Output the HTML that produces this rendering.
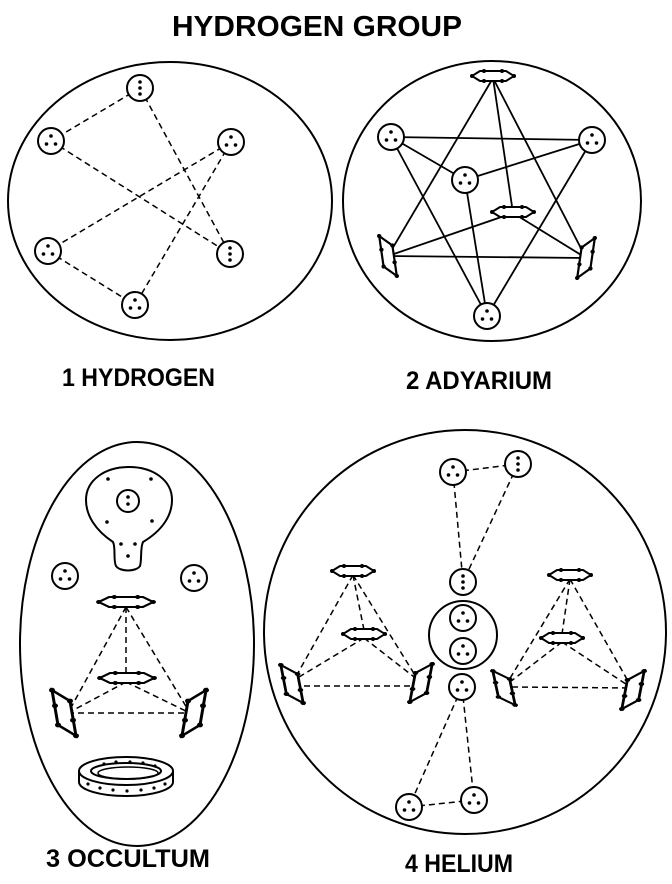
<!DOCTYPE html>
<html><head><meta charset="utf-8"><style>
html,body{margin:0;padding:0;background:#fff;}
svg{display:block}
text{font-family:"Liberation Sans",sans-serif;font-weight:bold;fill:#000}
</style></head><body>
<svg width="672" height="884" viewBox="0 0 672 884" xmlns="http://www.w3.org/2000/svg">
<defs>
<g id="n3"><circle r="13" fill="#fff" stroke="#000" stroke-width="2"/><circle cx="0" cy="-5" r="1.8"/><circle cx="-4.5" cy="3" r="1.8"/><circle cx="4.5" cy="3" r="1.8"/></g>
<g id="nv"><circle r="13" fill="#fff" stroke="#000" stroke-width="2"/><circle cx="0" cy="-6" r="1.8"/><circle cx="0" cy="0" r="1.8"/><circle cx="0" cy="6" r="1.8"/></g>
<g id="hx"><polygon points="-21,0 -13,-5 13,-5 21,0 13,5 -13,5" fill="#fff" stroke="#000" stroke-width="2"/><circle cx="-21" cy="0" r="2"/><circle cx="21" cy="0" r="2"/><circle cx="-9" cy="-5" r="2"/><circle cx="9" cy="-5" r="2"/><circle cx="-9" cy="5" r="2"/><circle cx="9" cy="5" r="2"/></g>
<g id="pl"><polygon points="-8,-19 4,-10 8,19 -4,10" fill="#fff" stroke="#000" stroke-width="2"/><circle cx="-8" cy="-19" r="2"/><circle cx="8" cy="19" r="2"/><circle cx="-6" cy="-6" r="2"/><circle cx="6" cy="6" r="2"/><circle cx="4" cy="-10" r="2"/><circle cx="-4" cy="10" r="2"/></g>
</defs>

<text x="172" y="36" font-size="29" textLength="290" lengthAdjust="spacingAndGlyphs">HYDROGEN GROUP</text>

<!-- 1 Hydrogen -->
<ellipse cx="170" cy="201" rx="162" ry="139" fill="none" stroke="#000" stroke-width="2"/>
<g stroke="#000" stroke-width="1.5" stroke-dasharray="6,4" fill="none">
<line x1="140" y1="88" x2="51" y2="141"/><line x1="140" y1="88" x2="230" y2="254"/>
<line x1="51" y1="141" x2="230" y2="254"/><line x1="231" y1="142" x2="48" y2="251"/>
<line x1="231" y1="142" x2="135" y2="305"/><line x1="48" y1="251" x2="135" y2="305"/>
</g>
<use href="#nv" x="140" y="88"/><use href="#n3" x="51" y="141"/><use href="#n3" x="231" y="142"/>
<use href="#n3" x="48" y="251"/><use href="#nv" x="230" y="254"/><use href="#n3" x="135" y="305"/>
<text x="62" y="386" font-size="25" textLength="153" lengthAdjust="spacingAndGlyphs">1 HYDROGEN</text>

<!-- 2 Adyarium -->
<ellipse cx="492" cy="201" rx="149" ry="140" fill="none" stroke="#000" stroke-width="2"/>
<g stroke="#000" stroke-width="1.8" fill="none">
<line x1="493" y1="78" x2="388" y2="256"/><line x1="493" y1="78" x2="586" y2="258"/><line x1="493" y1="78" x2="513" y2="213"/>
<line x1="391" y1="137" x2="592" y2="140"/><line x1="391" y1="137" x2="465" y2="180"/><line x1="391" y1="137" x2="487" y2="316"/>
<line x1="465" y1="180" x2="592" y2="140"/><line x1="465" y1="180" x2="487" y2="316"/><line x1="592" y1="140" x2="487" y2="316"/>
<line x1="513" y1="213" x2="388" y2="256"/><line x1="513" y1="213" x2="586" y2="258"/><line x1="388" y1="256" x2="586" y2="258"/>
</g>
<use href="#hx" x="493" y="76"/><use href="#hx" x="513" y="212"/>
<use href="#pl" transform="translate(388,256) scale(1.1,1.05)"/><use href="#pl" transform="translate(586,258) scale(-1.1,1.05)"/>
<use href="#n3" x="391" y="137"/><use href="#n3" x="592" y="140"/><use href="#n3" x="465" y="180"/><use href="#n3" x="487" y="316"/>
<text x="406" y="389" font-size="25" textLength="146" lengthAdjust="spacingAndGlyphs">2 ADYARIUM</text>

<!-- 3 Occultum -->
<ellipse cx="137" cy="644" rx="117" ry="202" fill="none" stroke="#000" stroke-width="2"/>
<path d="M113,542 C95,530 86,515 86,500 C86,480 105,467 129,467 C153,467 172,480 172,500 C172,515 163,530 143,542 C140,548 142,560 140,566 C136,572 120,572 116,566 C113,560 116,548 113,542 Z" fill="none" stroke="#000" stroke-width="2"/>
<circle cx="128" cy="501" r="11" fill="none" stroke="#000" stroke-width="2"/>
<circle cx="128" cy="497" r="1.8"/><circle cx="128" cy="504" r="1.8"/>
<circle cx="108" cy="479" r="1.8"/><circle cx="151" cy="479" r="1.8"/><circle cx="107" cy="522" r="1.8"/><circle cx="152" cy="521" r="1.8"/>
<circle cx="121" cy="544" r="1.8"/><circle cx="135" cy="544" r="1.8"/><circle cx="128" cy="556" r="1.8"/>
<use href="#n3" x="65" y="576"/><use href="#n3" x="194" y="578"/>
<g stroke="#000" stroke-width="1.5" stroke-dasharray="6,4" fill="none">
<line x1="126" y1="607" x2="68" y2="713"/><line x1="126" y1="607" x2="190" y2="713"/><line x1="126" y1="607" x2="126" y2="674"/>
<line x1="126" y1="682" x2="68" y2="713"/><line x1="126" y1="682" x2="190" y2="713"/><line x1="68" y1="713" x2="190" y2="713"/>
</g>
<use href="#hx" transform="translate(126,602) scale(1.3,1)"/>
<use href="#hx" transform="translate(127,678) scale(1.3,1)"/>
<use href="#pl" transform="translate(64,713) scale(1.5,1.2)"/>
<use href="#pl" transform="translate(194,713) scale(-1.5,1.2)"/>
<g fill="none" stroke="#000" stroke-width="2">
<ellipse cx="126" cy="771" rx="47" ry="14"/>
<path d="M79,771 L79,782 A47,14 0 0 0 173,782 L173,771"/>
<ellipse cx="126" cy="771" rx="35" ry="8"/>
<ellipse cx="128" cy="773" rx="30" ry="6" stroke-width="1.5"/>
</g>
<g><circle cx="104" cy="764" r="1.6"/><circle cx="116" cy="762" r="1.6"/><circle cx="130" cy="762" r="1.6"/><circle cx="143" cy="763" r="1.6"/><circle cx="155" cy="766" r="1.6"/>
<circle cx="88" cy="784" r="1.6"/><circle cx="100" cy="788" r="1.6"/><circle cx="113" cy="790" r="1.6"/><circle cx="127" cy="791" r="1.6"/><circle cx="141" cy="790" r="1.6"/><circle cx="154" cy="788" r="1.6"/><circle cx="165" cy="784" r="1.6"/></g>
<text x="46" y="867" font-size="25" textLength="164" lengthAdjust="spacingAndGlyphs">3 OCCULTUM</text>

<!-- 4 Helium -->
<ellipse cx="465" cy="632" rx="201" ry="202" fill="none" stroke="#000" stroke-width="2"/>
<g stroke="#000" stroke-width="1.5" stroke-dasharray="6,4" fill="none">
<line x1="453" y1="472" x2="518" y2="464"/><line x1="453" y1="472" x2="463" y2="582"/><line x1="518" y1="464" x2="463" y2="582"/>
<line x1="409" y1="807" x2="474" y2="800"/><line x1="462" y1="687" x2="409" y2="807"/><line x1="462" y1="687" x2="474" y2="800"/>
<line x1="353" y1="575" x2="294" y2="680"/><line x1="353" y1="575" x2="418" y2="680"/><line x1="353" y1="575" x2="364" y2="630"/>
<line x1="364" y1="638" x2="294" y2="680"/><line x1="364" y1="638" x2="418" y2="680"/><line x1="294" y1="686" x2="418" y2="686"/>
<line x1="570" y1="579" x2="506" y2="685"/><line x1="570" y1="579" x2="632" y2="688"/><line x1="570" y1="579" x2="562" y2="634"/>
<line x1="562" y1="642" x2="506" y2="685"/><line x1="562" y1="642" x2="632" y2="688"/><line x1="512" y1="687" x2="632" y2="688"/>
</g>
<circle cx="463" cy="635" r="34" fill="none" stroke="#000" stroke-width="2"/>
<use href="#n3" x="453" y="472"/><use href="#nv" x="518" y="464"/><use href="#nv" x="463" y="582"/>
<use href="#n3" x="463" y="618"/><use href="#n3" x="463" y="651"/><use href="#n3" x="462" y="687"/>
<use href="#n3" x="409" y="807"/><use href="#n3" x="474" y="800"/>
<use href="#hx" x="353" y="571"/><use href="#hx" x="364" y="634"/>
<use href="#pl" transform="translate(292,684) scale(1.4,1)"/>
<use href="#pl" transform="translate(421,683) scale(-1.4,1)"/>
<use href="#hx" x="570" y="575"/><use href="#hx" x="562" y="638"/>
<use href="#pl" transform="translate(504,688) scale(1.4,0.9)"/>
<use href="#pl" transform="translate(633,690) scale(-1.4,1)"/>
<text x="405" y="872" font-size="25" textLength="108" lengthAdjust="spacingAndGlyphs">4 HELIUM</text>
</svg>
</body></html>
